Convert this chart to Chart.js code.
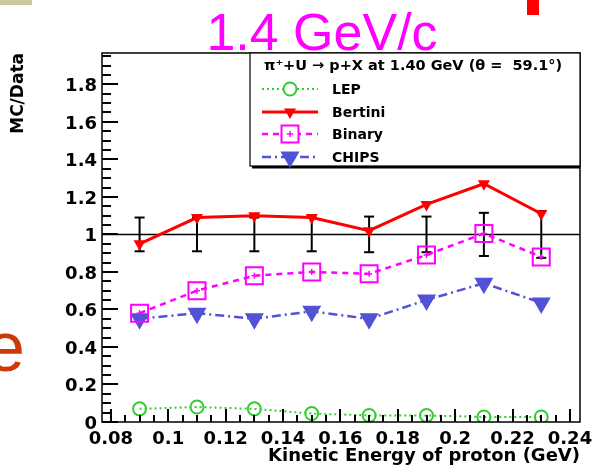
<!DOCTYPE html>
<html>
<head>
<meta charset="utf-8">
<script src="https://cdn.jsdelivr.net/npm/chart.js@4.4.1/dist/chart.umd.min.js"></script>
<style>
  html, body { margin: 0; padding: 0; background: #fff; }
  #wrap { position: relative; width: 594px; height: 467px; }
</style>
</head>
<body>
<div id="wrap"><canvas id="c" width="594" height="467"></canvas></div>
<script>
// ---- data ----
const energies = [0.09, 0.11, 0.13, 0.15, 0.17, 0.19, 0.21, 0.23];
const lep      = [0.07, 0.08, 0.07, 0.045, 0.035, 0.035, 0.027, 0.027];
const bertini  = [0.95, 1.09, 1.10, 1.09, 1.02, 1.16, 1.27, 1.11];
const binary   = [0.58, 0.70, 0.78, 0.80, 0.79, 0.89, 1.005, 0.88];
const chips    = [0.55, 0.58, 0.55, 0.59, 0.55, 0.65, 0.74, 0.635];
const dataRatio = [1, 1, 1, 1, 1, 1, 1, 1];
const dataErr   = [0.09, 0.09, 0.09, 0.09, 0.095, 0.095, 0.115, 0.125];
const refLine = 1;

const xTicks = [0.08, 0.10, 0.12, 0.14, 0.16, 0.18, 0.20, 0.22, 0.24];
const xTickLabels = ['0.08', '0.1', '0.12', '0.14', '0.16', '0.18', '0.2', '0.22', '0.24'];
const yTicks = [0, 0.2, 0.4, 0.6, 0.8, 1.0, 1.2, 1.4, 1.6, 1.8];
const yTickLabels = ['0', '0.2', '0.4', '0.6', '0.8', '1', '1.2', '1.4', '1.6', '1.8'];

const seriesNames = ['LEP', 'Bertini', 'Binary', 'CHIPS'];
const legendHeader = 'π⁺+U → p+X at 1.40 GeV (θ =  59.1°)';
const slideTitle = '1.4 GeV/c';
const slideLetter = 'e';
const xTitle = 'Kinetic Energy of proton (GeV)';
const yTitle = 'MC/Data';

// ---- styles ----
const FONT = '"DejaVu Sans", "Liberation Sans", sans-serif';
const styles = [
  { color: '#33cc33', width: 2,   dash: [2, 3],        pointStyle: 'circle',   rotation: 0,   radius: 6.5, fill: false },
  { color: '#ff0000', width: 3,   dash: [],            pointStyle: 'triangle', rotation: 180, radius: 5,   fill: true },
  { color: '#ff00ff', width: 2.5, dash: [6, 5],        pointStyle: 'rect',     rotation: 0,   radius: 12,  fill: false },
  { color: '#5252d6', width: 2.5, dash: [9, 4, 2, 4],  pointStyle: 'triangle', rotation: 180, radius: 9,   fill: true }
];
const seriesValues = [lep, bertini, binary, chips];

const datasets = seriesValues.map((vals, k) => {
  const s = styles[k];
  return {
    label: seriesNames[k],
    data: energies.map((e, i) => ({ x: e, y: vals[i] })),
    showLine: true,
    borderColor: s.color,
    borderWidth: s.width,
    borderDash: s.dash,
    tension: 0,
    pointStyle: s.pointStyle,
    rotation: s.rotation,
    pointRadius: s.radius,
    pointHoverRadius: s.radius,
    pointBorderWidth: 2,
    pointBorderColor: s.color,
    pointBackgroundColor: s.fill ? s.color : 'rgba(0,0,0,0)'
  };
});

function seg(ctx, x1, y1, x2, y2) {
  ctx.beginPath(); ctx.moveTo(x1, y1); ctx.lineTo(x2, y2); ctx.stroke();
}

const decor = {
  id: 'decor',
  beforeDatasetsDraw(chart) {
    const { ctx, chartArea: a, scales: { x, y } } = chart;
    ctx.save();
    ctx.setLineDash([]);
    ctx.strokeStyle = '#000';
    ctx.lineWidth = 1.5;
    const yr = y.getPixelForValue(refLine);
    seg(ctx, a.left, yr, a.right, yr);
    ctx.lineWidth = 2;
    energies.forEach((e, i) => {
      const px = x.getPixelForValue(e);
      const t = y.getPixelForValue(dataRatio[i] + dataErr[i]);
      const b = y.getPixelForValue(dataRatio[i] - dataErr[i]);
      seg(ctx, px, t, px, b);
      seg(ctx, px - 5, t, px + 5, t);
      seg(ctx, px - 5, b, px + 5, b);
    });
    ctx.restore();
  },
  afterDatasetsDraw(chart) {
    const { ctx, scales: { x, y } } = chart;
    ctx.save();
    ctx.setLineDash([]);
    ctx.strokeStyle = styles[2].color;
    ctx.lineWidth = 1.5;
    energies.forEach((e, i) => {
      const px = x.getPixelForValue(e), py = y.getPixelForValue(binary[i]);
      seg(ctx, px - 3, py, px + 3, py);
      seg(ctx, px, py - 3, px, py + 3);
    });
    ctx.restore();
  },
  afterDraw(chart) {
    const { ctx, chartArea: a, scales: { x, y } } = chart;
    ctx.save();
    ctx.setLineDash([]);
    ctx.globalAlpha = 1;
    // frame
    ctx.strokeStyle = '#000000';
    ctx.lineWidth = 1.5;
    ctx.strokeRect(a.left, a.top, a.right - a.left, a.bottom - a.top);
    // y ticks (inward)
    ctx.fillStyle = '#000';
    for (let k = 0; k <= 39; k++) {
      const v = k * 0.05;
      const py = Math.round(y.getPixelForValue(v));
      if (py < a.top + 1) break;
      const len = (k % 4 === 0) ? 16 : 9;
      ctx.fillRect(a.left, py - 1, len, 2);
    }
    // x ticks (inward)
    for (let k = 0; k <= 33; k++) {
      const v = 0.08 + k * 0.005;
      const px = Math.round(x.getPixelForValue(v));
      if (px > a.right - 1) break;
      const len = (k % 4 === 0) ? 13 : 7;
      ctx.fillRect(px - 1, a.bottom - len, 2, len);
    }
    // legend box
    const L = 250, T = a.top, R = a.right, B = 166;
    ctx.fillStyle = '#fff';
    ctx.fillRect(L, T, R - L, B - T);
    ctx.lineWidth = 1.2;
    ctx.strokeStyle = '#000';
    ctx.strokeRect(L, T, R - L, B - T);
    ctx.fillStyle = '#000';
    ctx.fillRect(L + 2, B, R - L - 2, 2.5);
    // header
    ctx.fillStyle = '#000';
    ctx.font = 'bold 14.5px ' + FONT;
    ctx.textAlign = 'left';
    ctx.textBaseline = 'middle';
    ctx.fillText(legendHeader, 264, 66);
    // entries
    const rows = [89, 112, 134, 157];
    seriesNames.forEach((name, k) => {
      const s = styles[k];
      const ry = rows[k];
      ctx.strokeStyle = s.color;
      ctx.lineWidth = s.width;
      ctx.setLineDash(s.dash);
      seg(ctx, 262, ry, 318, ry);
      ctx.setLineDash([]);
      ctx.lineWidth = 2;
      ctx.fillStyle = s.fill ? s.color : '#fff';
      Chart.helpers.drawPoint(ctx, { pointStyle: s.pointStyle, rotation: s.rotation, radius: s.radius, borderWidth: 2 }, 290, ry);
      if (k === 2) {
        ctx.lineWidth = 1.5;
        seg(ctx, 287, ry, 293, ry);
        seg(ctx, 290, ry - 3, 290, ry + 3);
      }
      ctx.fillStyle = '#000';
      ctx.font = 'bold 14px ' + FONT;
      ctx.fillText(name, 332, ry + 1);
    });
    // slide decorations
    ctx.fillStyle = '#ff00ff';
    ctx.font = '52px "Liberation Sans", Arial, sans-serif';
    ctx.textAlign = 'center';
    ctx.textBaseline = 'alphabetic';
    ctx.fillText(slideTitle, 322, 50);
    ctx.fillStyle = '#cc3a0a';
    ctx.font = '70px "Liberation Sans", Arial, sans-serif';
    ctx.textAlign = 'left';
    ctx.fillText(slideLetter, -14, 371);
    ctx.fillStyle = '#ff0000';
    ctx.fillRect(527, 0, 12, 15);
    ctx.fillStyle = '#cfc79b';
    ctx.fillRect(0, 0, 32, 5);
    ctx.restore();
  }
};

new Chart(document.getElementById('c'), {
  type: 'scatter',
  data: { datasets },
  options: {
    responsive: false,
    animation: false,
    devicePixelRatio: 1,
    layout: { padding: { top: 53, right: 10, left: 0, bottom: 0 } },
    plugins: { legend: { display: false }, title: { display: false }, tooltip: { enabled: false } },
    scales: {
      x: {
        type: 'linear',
        min: 0.0769,
        max: 0.2435,
        afterFit(s) { s.height = 45; s.paddingLeft = 0; s.paddingRight = 0; },
        afterBuildTicks(s) { s.ticks = xTicks.map(v => ({ value: v })); },
        grid: { display: false, drawTicks: false },
        border: { display: false },
        ticks: {
          autoSkip: false, maxRotation: 0, padding: 7, color: '#000',
          font: { family: FONT, size: 18, weight: 'bold' },
          callback: (v, i) => xTickLabels[i]
        },
        title: {
          display: true, text: xTitle, align: 'end', color: '#000',
          font: { family: FONT, size: 18, weight: 'bold' },
          padding: { top: 0, bottom: 0 }
        }
      },
      y: {
        type: 'linear',
        min: 0,
        max: 1.967,
        afterFit(s) { s.width = 102; s.paddingTop = 0; s.paddingBottom = 0; },
        afterBuildTicks(s) { s.ticks = yTicks.map(v => ({ value: v })); },
        grid: { display: false, drawTicks: false },
        border: { display: false },
        ticks: {
          padding: 5, color: '#000', labelOffset: 2,
          font: { family: FONT, size: 18, weight: 'bold' },
          callback: (v, i) => yTickLabels[i]
        },
        title: {
          display: true, text: yTitle, align: 'end', color: '#000',
          font: { family: FONT, size: 17, weight: 'bold' },
          padding: { top: 8, bottom: 0 }
        }
      }
    }
  },
  plugins: [decor]
});
</script>
</body>
</html>
